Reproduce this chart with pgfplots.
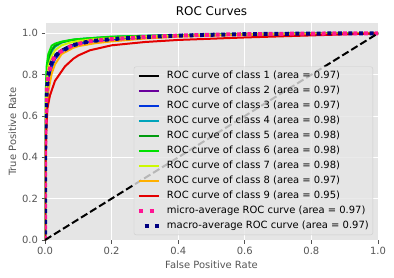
\documentclass[border=0pt]{standalone}
\usepackage{fontspec}
\setmainfont{DejaVu Sans}
\usepackage{pgfplots}
\pgfplotsset{compat=1.18}
\definecolor{bg}{HTML}{E5E5E5}
\definecolor{tk}{HTML}{555555}
\definecolor{c1}{rgb}{0,0,0}
\definecolor{c2}{rgb}{0.415,0,0.615}
\definecolor{c3}{rgb}{0,0.207,0.867}
\definecolor{c4}{rgb}{0,0.644,0.733}
\definecolor{c5}{rgb}{0,0.607,0.059}
\definecolor{c6}{rgb}{0,0.881,0}
\definecolor{c7}{rgb}{0.8,0.978,0}
\definecolor{c8}{rgb}{1,0.689,0}
\definecolor{c9}{rgb}{0.896,0,0}
\definecolor{deeppink}{HTML}{FF1493}
\definecolor{navy}{HTML}{000080}
\begin{document}
\begin{tikzpicture}
\begin{axis}[
 scale only axis, width=333bp, height=217bp,
 xmin=0, xmax=1, ymin=0, ymax=1.05,
 axis background/.style={fill=bg},
 axis line style={draw=none},
 grid=major, grid style={white, line width=0.8bp},
 xtick={0,0.2,0.4,0.6,0.8,1}, ytick={0,0.2,0.4,0.6,0.8,1},
 tick pos=left, tick align=outside, major tick length=3.5bp,
 tick style={tk, line width=0.8bp},
 ticklabel style={font=\fontsize{10}{12}\selectfont, text=tk},
 /pgf/number format/fixed, /pgf/number format/fixed zerofill, /pgf/number format/precision=1, /pgf/number format/assume math mode=true,
 xlabel={False Positive Rate}, ylabel={True Positive Rate},
 label style={font=\fontsize{10}{12}\selectfont, text=tk},
 ylabel style={yshift=-1bp},
 title={ROC Curves}, title style={font=\fontsize{12}{14}\selectfont, yshift=-2bp},
 legend cell align=left,
 legend image code/.code={\draw[#1] (0bp,0bp) -- (20bp,0bp);},
 legend style={at={(1,0)}, anchor=south east, xshift=-5bp, yshift=5bp,
   fill=bg, fill opacity=0.8, text opacity=1, draw=white!80!black, rounded corners=2bp,
   font=\fontsize{10}{12}\selectfont,
   nodes={inner sep=1bp, text height=7.5bp, text depth=2.5bp},
   row sep=3bp, column sep=5bp, inner xsep=3bp, inner ysep=3bp},
]
\addplot[c1, line width=2bp] coordinates {(0,0)(0,0.35)(0.002,0.56)(0.005,0.69)(0.01,0.78)(0.02,0.855)(0.03,0.89)(0.05,0.92)(0.075,0.94)(0.1,0.952)(0.15,0.964)(0.2,0.972)(0.3,0.982)(0.4,0.988)(0.6,0.995)(0.8,0.998)(1,1)};
\addlegendentry{ROC curve of class 1 (area = 0.97)}
\addplot[c2, line width=2bp] coordinates {(0,0)(0,0.33)(0.002,0.54)(0.005,0.67)(0.01,0.77)(0.02,0.85)(0.03,0.885)(0.05,0.917)(0.075,0.938)(0.1,0.95)(0.15,0.963)(0.2,0.971)(0.3,0.981)(0.4,0.988)(0.6,0.995)(0.8,0.998)(1,1)};
\addlegendentry{ROC curve of class 2 (area = 0.97)}
\addplot[c3, line width=2bp] coordinates {(0,0)(0,0.3)(0.002,0.5)(0.005,0.64)(0.01,0.74)(0.02,0.83)(0.03,0.875)(0.05,0.912)(0.075,0.935)(0.1,0.948)(0.15,0.962)(0.2,0.97)(0.3,0.981)(0.4,0.988)(0.6,0.995)(0.8,0.998)(1,1)};
\addlegendentry{ROC curve of class 3 (area = 0.97)}
\addplot[c4, line width=2bp] coordinates {(0,0)(0,0.38)(0.002,0.63)(0.005,0.78)(0.01,0.86)(0.02,0.91)(0.03,0.935)(0.05,0.955)(0.075,0.966)(0.1,0.972)(0.15,0.978)(0.2,0.983)(0.3,0.988)(0.4,0.992)(0.6,0.996)(0.8,0.999)(1,1)};
\addlegendentry{ROC curve of class 4 (area = 0.98)}
\addplot[c5, line width=2bp] coordinates {(0,0)(0,0.4)(0.002,0.66)(0.005,0.8)(0.01,0.875)(0.02,0.92)(0.03,0.94)(0.05,0.957)(0.075,0.966)(0.1,0.971)(0.15,0.977)(0.2,0.981)(0.3,0.986)(0.4,0.99)(0.6,0.996)(0.8,0.999)(1,1)};
\addlegendentry{ROC curve of class 5 (area = 0.98)}
\addplot[c6, line width=2bp] coordinates {(0,0)(0,0.45)(0.002,0.7)(0.005,0.84)(0.01,0.9)(0.02,0.94)(0.03,0.95)(0.05,0.96)(0.085,0.97)(0.1,0.972)(0.15,0.978)(0.2,0.984)(0.3,0.988)(0.4,0.991)(0.6,0.996)(0.8,0.999)(1,1)};
\addlegendentry{ROC curve of class 6 (area = 0.98)}
\addplot[c7, line width=2bp] coordinates {(0,0)(0,0.38)(0.002,0.62)(0.005,0.76)(0.01,0.84)(0.02,0.89)(0.03,0.918)(0.05,0.942)(0.075,0.955)(0.1,0.963)(0.15,0.972)(0.2,0.977)(0.3,0.985)(0.4,0.989)(0.6,0.995)(0.8,0.998)(1,1)};
\addlegendentry{ROC curve of class 7 (area = 0.98)}
\addplot[c8, line width=2bp] coordinates {(0,0)(0,0.28)(0.002,0.48)(0.005,0.62)(0.01,0.72)(0.02,0.805)(0.03,0.85)(0.05,0.9)(0.085,0.93)(0.1,0.938)(0.15,0.952)(0.2,0.961)(0.3,0.975)(0.4,0.984)(0.6,0.993)(0.8,0.997)(1,1)};
\addlegendentry{ROC curve of class 8 (area = 0.97)}
\addplot[c9, line width=2bp] coordinates {(0,0)(0,0.2)(0.002,0.38)(0.0035,0.52)(0.0075,0.64)(0.015,0.7)(0.03,0.77)(0.045,0.805)(0.06,0.84)(0.085,0.877)(0.1,0.893)(0.135,0.918)(0.2,0.942)(0.3,0.958)(0.4,0.968)(0.6,0.98)(0.8,0.99)(1,1)};
\addlegendentry{ROC curve of class 9 (area = 0.95)}
\addplot[deeppink, line width=4bp, dash pattern=on 4bp off 6.6bp, line cap=butt] coordinates {(0,0)(0,0.35)(0.002,0.6)(0.005,0.72)(0.01,0.8)(0.02,0.86)(0.03,0.89)(0.045,0.91)(0.085,0.943)(0.135,0.962)(0.2,0.972)(0.3,0.982)(0.4,0.989)(0.5,0.993)(0.6,0.996)(0.8,0.999)(1,1)};
\addlegendentry{micro-average ROC curve (area = 0.97)}
\addplot[navy, line width=4bp, dash pattern=on 4bp off 6.6bp, dash phase=5bp, line cap=butt] coordinates {(0,0)(0,0.35)(0.002,0.6)(0.005,0.72)(0.01,0.8)(0.02,0.86)(0.03,0.89)(0.045,0.91)(0.085,0.943)(0.135,0.962)(0.2,0.972)(0.3,0.982)(0.4,0.989)(0.5,0.993)(0.6,0.996)(0.8,0.999)(1,1)};
\addlegendentry{macro-average ROC curve (area = 0.97)}
\addplot[black, line width=2bp, dash pattern=on 7.4bp off 3.2bp, forget plot] coordinates {(0,0)(1,1)};
\end{axis}
\pgfresetboundingbox
\path ([shift={(-45bp,-38bp)}]current axis.south west) rectangle ([shift={(16bp,23bp)}]current axis.north east);
\end{tikzpicture}
\end{document}
